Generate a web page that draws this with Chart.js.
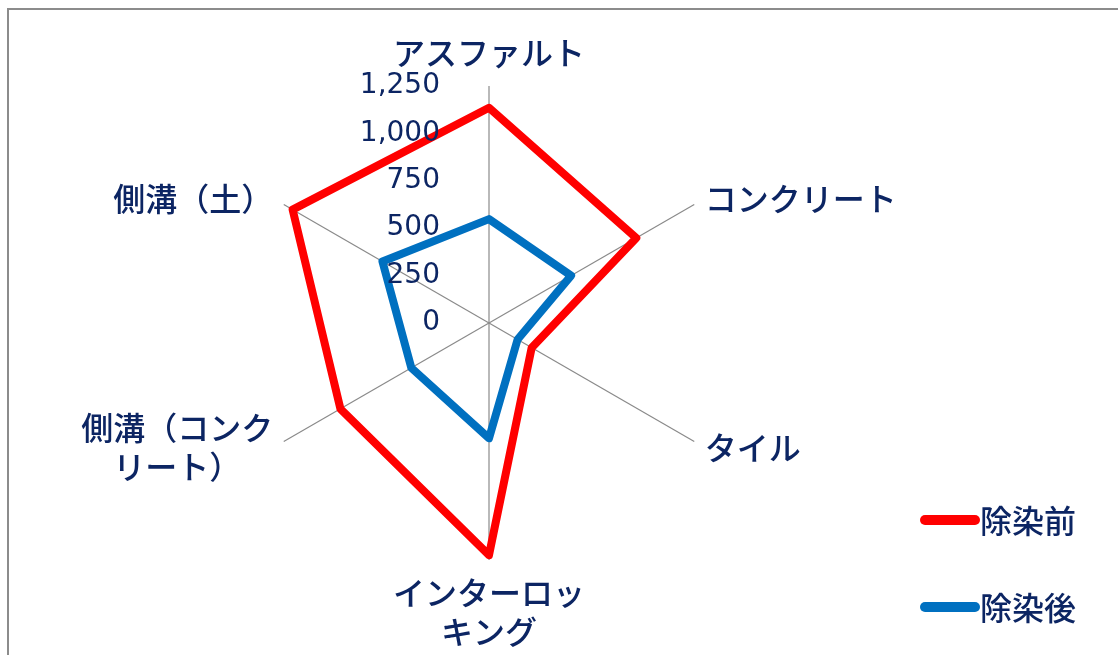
<!DOCTYPE html>
<html><head><meta charset="utf-8">
<script src="https://cdn.jsdelivr.net/npm/chart.js@4.4.1/dist/chart.umd.min.js"></script>
<style>
html,body{margin:0;padding:0;background:#fff;}
#wrap{position:relative;width:1118px;height:655px;overflow:hidden;background:#fff;}
#frame{position:absolute;left:7px;top:8px;width:1200px;height:800px;border-left:2px solid #8c8c8c;border-top:2px solid #8c8c8c;pointer-events:none;}
canvas{position:absolute;left:0;top:0;}
</style></head><body>
<div id="wrap"><div id="frame"></div><canvas id="c" width="1118" height="655"></canvas></div>
<script>
const categories = ['アスファルト', 'コンクリート', 'タイル', ['インターロッ', 'キング'], ['側溝（コンク', 'リート）'], '側溝（土）'];
const seriesNames = ['除染前', '除染後'];
const beforeValues = [1135, 897, 260, 1224, 905, 1196];
const afterValues = [548, 500, 174, 608, 473, 649];
const tickValues = [0, 250, 500, 750, 1000, 1250];
const tickLabels = ['0', '250', '500', '750', '1,000', '1,250'];
const seriesColors = ['#ff0000', '#0070c0'];

const NAVY = '#0c2563';
const LABEL_FONT = '500 32px "Noto Sans CJK JP", "Noto Sans", sans-serif';
const TICK_FONT = '28px "DejaVu Sans", sans-serif';

const textPlugin = {
  id: 'textPlugin',
  afterDatasetsDraw(chart) {
    const s = chart.scales.r;
    const ctx = chart.ctx;
    ctx.save();
    // category labels
    ctx.font = LABEL_FONT;
    ctx.fillStyle = NAVY;
    ctx.textBaseline = 'middle';
    ctx.textAlign = 'center';
    const lh = 39;
    s._pointLabels.forEach((lab, i) => {
      const lines = Array.isArray(lab) ? lab : [lab];
      const p = s.getPointPosition(i, s.drawingArea + 12);
      const dx = p.x - s.xCenter;
      const bw = Math.max(...lines.map(l => ctx.measureText(l).width));
      let cx, y0;
      if (Math.abs(dx) < 1) {
        cx = p.x;
        y0 = p.y < s.yCenter ? p.y - 21 - (lines.length - 1) * lh : p.y + 21;
      } else {
        cx = dx > 0 ? p.x + bw / 2 : p.x - bw / 2;
        y0 = p.y - (lines.length - 1) * lh / 2;
      }
      lines.forEach((l, k) => ctx.fillText(l, cx, y0 + k * lh));
    });
    // tick labels
    ctx.font = TICK_FONT;
    ctx.textAlign = 'right';
    s.ticks.forEach(t => {
      const y = s.yCenter - s.getDistanceFromCenterForValue(t.value);
      ctx.fillText(t.label, s.xCenter - 49, y);
    });
    // legend
    const legendY = [520, 607];
    chart.data.datasets.forEach((ds, k) => {
      const y = legendY[k];
      ctx.strokeStyle = ds.borderColor;
      ctx.lineWidth = 10;
      ctx.lineCap = 'round';
      ctx.beginPath();
      ctx.moveTo(925, y);
      ctx.lineTo(975, y);
      ctx.stroke();
      ctx.font = LABEL_FONT;
      ctx.textAlign = 'left';
      ctx.fillStyle = NAVY;
      ctx.fillText(ds.label, 980, y + 1);
    });
    ctx.restore();
  }
};

new Chart(document.getElementById('c'), {
  type: 'radar',
  data: {
    labels: categories,
    datasets: [
      { label: seriesNames[0], data: beforeValues, borderColor: seriesColors[0], backgroundColor: seriesColors[0],
        borderWidth: 8, fill: false, pointRadius: 0, pointHoverRadius: 0, borderJoinStyle: 'round', borderCapStyle: 'round' },
      { label: seriesNames[1], data: afterValues, borderColor: seriesColors[1], backgroundColor: seriesColors[1],
        borderWidth: 8, fill: false, pointRadius: 0, pointHoverRadius: 0, borderJoinStyle: 'round', borderCapStyle: 'round' }
    ]
  },
  options: {
    responsive: false,
    animation: false,
    layout: { padding: { left: 252, right: 392, top: 86, bottom: 95 } },
    plugins: { legend: { display: false }, tooltip: { enabled: false } },
    scales: {
      r: {
        min: tickValues[0],
        max: tickValues[tickValues.length - 1],
        ticks: { display: false, stepSize: tickValues[1] - tickValues[0], callback: (v, i) => tickLabels[i] },
        grid: { display: false },
        angleLines: { display: true, color: '#8a8a8a', lineWidth: 1.2 },
        pointLabels: { display: false }
      }
    }
  },
  plugins: [textPlugin]
});
</script>
</body></html>
